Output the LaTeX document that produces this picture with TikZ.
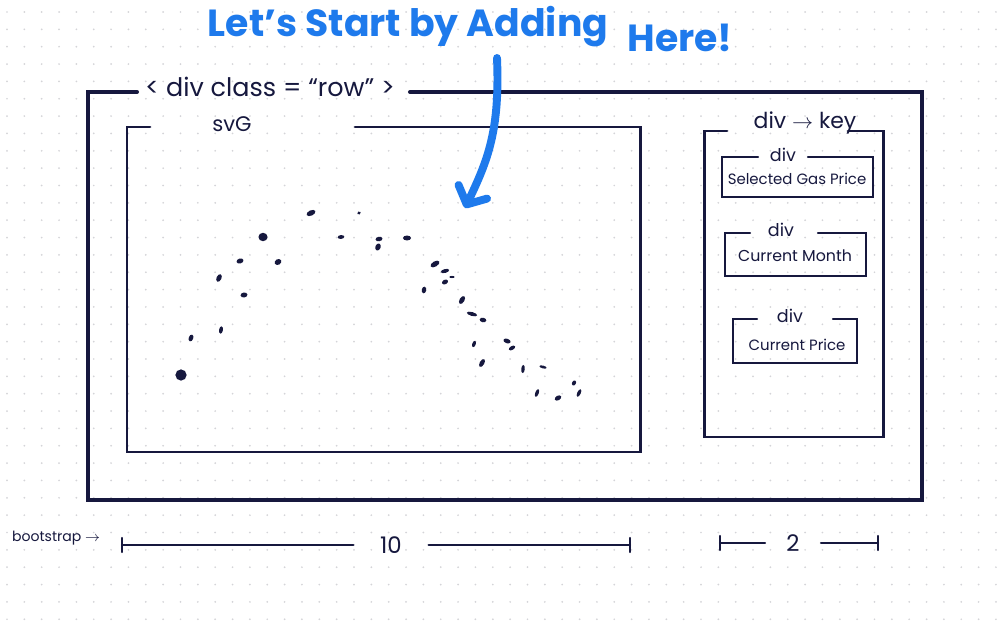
\documentclass[tikz,border=0pt]{standalone}
\usepackage{fontspec}
\setmainfont{Poppins}
\usetikzlibrary{arrows.meta}
\definecolor{inkblue}{RGB}{22,24,62}
\definecolor{penblue}{RGB}{30,122,236}
\definecolor{dotgrey}{RGB}{212,212,216}

\tikzset{
  rowframe/.style={draw=inkblue,line width=2.3pt},
  svgframe/.style={draw=inkblue,line width=1.7pt},
  keyframe/.style={draw=inkblue,line width=1.7pt},
  itemframe/.style={draw=inkblue,line width=1.4pt},
  handlbl/.style={text=inkblue,inner sep=1pt},
  blob/.style={fill=inkblue},
  ruler/.style={draw=inkblue,line width=1.2pt},
}

\begin{document}
\begin{tikzpicture}[x=0.02cm,y=-0.02cm,line cap=round]
\useasboundingbox (0,0) rectangle (1000,625);
\fill[white] (0,0) rectangle (1000,625);
% dotted paper
\foreach \i in {0,...,57}
  \foreach \j in {0,...,35}
    \fill[dotgrey] ({7+17.35*\i},{12+17.35*\j}) circle[radius=0.55pt];

% title
\node[text=penblue,font=\fontsize{21.5}{24}\selectfont\bfseries] (title) at (408,27) {Let's Start by Adding};
\node[text=penblue,font=\fontsize{21.5}{24}\selectfont\bfseries] (here) at (680,38) {Here!};

% row
\node[handlbl,font=\fontsize{14.5}{16}\selectfont] (rowlbl) at (270,87) {< div class = ``row'' >};
\draw[rowframe] (137,92) -- (88,92) -- (88,500) -- (922,500) -- (922,92) -- (410,92);

% svg
\node[handlbl,font=\fontsize{12}{14}\selectfont] (svglbl) at (232,124) {svG};
\draw[svgframe] (150,127) -- (127,127) -- (127,452) -- (640,452) -- (640,127) -- (355,127);

% scatter
\foreach \x/\y/\a/\rx/\ry in {
  181/375/0/3.2/3.2, 191/338/70/2.0/1.3, 221/330/80/2.1/1.1, 219/278/65/2.3/1.4,
  244/295/10/2.0/1.4, 240/261/15/2.0/1.4, 263/237/0/2.6/2.4, 278/262/30/2.0/1.6,
  311/213/25/2.7/1.5, 359/213/30/1.1/0.9, 341/237/5/1.9/1.1, 379/239/10/2.0/1.3,
  378/247/70/2.1/1.5, 407/238/0/2.3/1.4, 435/264/30/2.8/1.5, 445/271/15/2.4/1.1,
  452/277/0/1.5/0.6, 445/282/25/1.8/1.3, 424/290/80/1.9/1.3, 462/300/60/2.5/1.4,
  472/314/-15/3.0/1.1, 483/320/-10/1.9/1.3, 474/344/70/1.9/1.0, 507/341/-20/2.1/1.3,
  512/348/30/2.0/1.1, 482/363/60/2.5/1.3, 523/369/85/2.3/1.0, 543/367/-15/2.1/0.8,
  574/383/60/1.5/1.1, 537/393/70/2.3/1.0, 558/398/30/2.0/1.3, 579/393/65/2.3/1.0}
  \fill[blob] (\x,\y) circle[x radius=\rx pt,y radius=\ry pt,rotate=\a];

% key column
\node[handlbl,font=\fontsize{12.5}{14}\selectfont] (keylbl) at (805,123) {div $\to$ key};
\draw[keyframe] (727,131) -- (704,131) -- (704,437) -- (883,437) -- (883,131) -- (848,131);

\node[handlbl,font=\fontsize{10}{12}\selectfont] (gasdiv) at (783,155) {div};
\draw[itemframe] (758,157) -- (722,157) -- (722,197) -- (873,197) -- (873,157) -- (808,157);
\node[handlbl,font=\fontsize{8.5}{10}\selectfont] (gas) at (797,179) {Selected Gas Price};

\node[handlbl,font=\fontsize{10}{12}\selectfont] (monthdiv) at (781,230) {div};
\draw[itemframe] (750,233) -- (725,233) -- (725,276) -- (866,276) -- (866,233) -- (818,233);
\node[handlbl,font=\fontsize{9}{11}\selectfont] (month) at (795,256) {Current Month};

\node[handlbl,font=\fontsize{10}{12}\selectfont] (pricediv) at (790,316) {div};
\draw[itemframe] (757,319) -- (733,319) -- (733,363) -- (857,363) -- (857,319) -- (833,319);
\node[handlbl,font=\fontsize{8.5}{10}\selectfont] (price) at (797,345) {Current Price};

% pointer
\coordinate (penstart) at (497,58);
\coordinate (pentip) at (465,208);
\draw[penblue,line width=4.5pt,-{Straight Barb[length=8pt,width=18pt,round]}]
  (penstart) .. controls (500,130) and (488,160) .. (pentip);

% grid widths
\node[handlbl,font=\fontsize{8}{10}\selectfont,anchor=west] (bs) at (10,538) {bootstrap $\to$};
\node[handlbl,font=\fontsize{13}{15}\selectfont,inner xsep=15pt] (ten) at (391,545) {10};
\node[handlbl,font=\fontsize{13}{15}\selectfont,inner xsep=12pt] (two) at (793,543) {2};
\coordinate (tenL) at (122,545);
\coordinate (tenR) at (630,545);
\coordinate (twoL) at (720,543);
\coordinate (twoR) at (878,543);
\draw[ruler] (tenL) -- (ten);
\draw[ruler] (ten) -- (tenR);
\draw[ruler] (twoL) -- (two);
\draw[ruler] (two) -- (twoR);
\foreach \c in {tenL,tenR,twoL,twoR}
  \draw[ruler] ([yshift=-4pt]\c) -- ([yshift=4pt]\c);
\end{tikzpicture}
\end{document}
